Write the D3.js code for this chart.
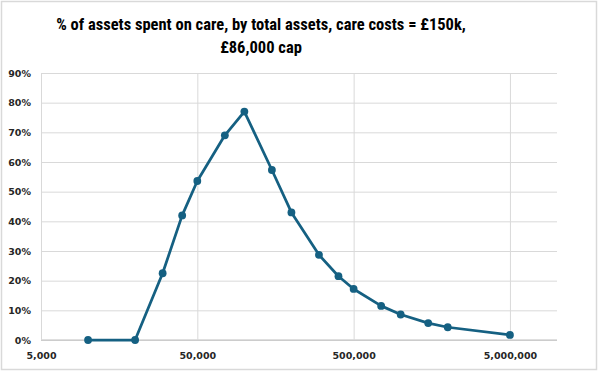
<!DOCTYPE html>
<html>
<head>
<meta charset="utf-8">
<script src="https://cdn.jsdelivr.net/npm/d3@7"></script>
<style>
  body { margin: 0; background: #fff; }
</style>
</head>
<body>
<div id="app"></div>
<script>
// total assets (£) and share of assets spent on care (%)
const assets = [10000, 20000, 30000, 40000, 50000, 75000, 100000, 150000, 200000,
    300000, 400000, 500000, 750000, 1000000, 1500000, 2000000, 5000000];
const pctSpent = [0, 0, 22.5, 42, 53.6, 69, 77, 57.3, 43, 28.7, 21.5, 17.2, 11.5, 8.6, 5.7, 4.3, 1.7];

const xTicks = [5000, 50000, 500000, 5000000];
const yTicks = [0, 10, 20, 30, 40, 50, 60, 70, 80, 90];

const titleLines = ['% of assets spent on care, by total assets, care costs = £150k,', '£86,000 cap'];

const width = 600;
const height = 372;
const margin = { top: 73, right: 43, bottom: 32, left: 41 };

const svg = d3.select('#app').append('svg')
    .attr('width', width)
    .attr('height', height)
    .style('display', 'block');

// outer frame
svg.append('rect')
    .attr('x', 1.5).attr('y', 1.5)
    .attr('width', width - 5).attr('height', height - 4)
    .attr('fill', '#fff')
    .attr('stroke', '#d9d9d9')
    .attr('stroke-width', 1.5);

const x = d3.scaleLog()
    .domain([5000, 10000000])
    .range([margin.left, width - margin.right]);

const y = d3.scaleLinear()
    .domain([0, 90])
    .range([height - margin.bottom, margin.top]);

const labelFont = "'DejaVu Sans', sans-serif";

// horizontal gridlines
svg.append('g')
    .attr('transform', `translate(${margin.left},0)`)
    .call(d3.axisLeft(y).tickValues(yTicks).tickSize(-(width - margin.left - margin.right)).tickFormat(d => d + '%'))
    .call(g => g.select('.domain').remove())
    .call(g => g.selectAll('.tick line').attr('stroke', '#d9d9d9').attr('stroke-width', 1))
    .call(g => g.selectAll('.tick text')
        .attr('x', -10)
        .attr('fill', '#262626')
        .attr('font-size', '9.5px')
        .attr('font-weight', 'bold')
        .attr('font-family', labelFont));

// vertical gridlines + x labels
svg.append('g')
    .attr('transform', `translate(0,${height - margin.bottom})`)
    .call(d3.axisBottom(x).tickValues(xTicks).tickSize(-(height - margin.top - margin.bottom)).tickFormat(d3.format(',')))
    .call(g => g.select('.domain').attr('stroke', '#bfbfbf').attr('d', `M${margin.left},0H${width - margin.right}`))
    .call(g => g.selectAll('.tick line').attr('stroke', '#d9d9d9').attr('stroke-width', 1))
    .call(g => g.selectAll('.tick text')
        .attr('y', 12)
        .attr('fill', '#262626')
        .attr('font-size', '9.5px')
        .attr('font-weight', 'bold')
        .attr('font-family', labelFont));

const data = assets.map((a, i) => ({ a, v: pctSpent[i] }));

const line = d3.line()
    .x(d => x(d.a))
    .y(d => y(d.v));

svg.append('path')
    .datum(data)
    .attr('fill', 'none')
    .attr('stroke', '#156082')
    .attr('stroke-width', 2.75)
    .attr('stroke-linejoin', 'round')
    .attr('d', line);

svg.append('g')
    .selectAll('circle')
    .data(data)
    .join('circle')
    .attr('cx', d => x(d.a))
    .attr('cy', d => y(d.v))
    .attr('r', 3.9)
    .attr('fill', '#156082');

// Title
svg.append('g')
    .selectAll('text')
    .data(titleLines)
    .join('text')
    .attr('x', 261)
    .attr('y', (d, i) => 30 + i * 23)
    .attr('text-anchor', 'middle')
    .attr('fill', '#000')
    .attr('font-size', '16.5px')
    .attr('font-weight', 'bold')
    .attr('font-family', "'Liberation Sans Narrow', 'Roboto Condensed', 'Arial Narrow', sans-serif")
    .text(d => d);
</script>
</body>
</html>
